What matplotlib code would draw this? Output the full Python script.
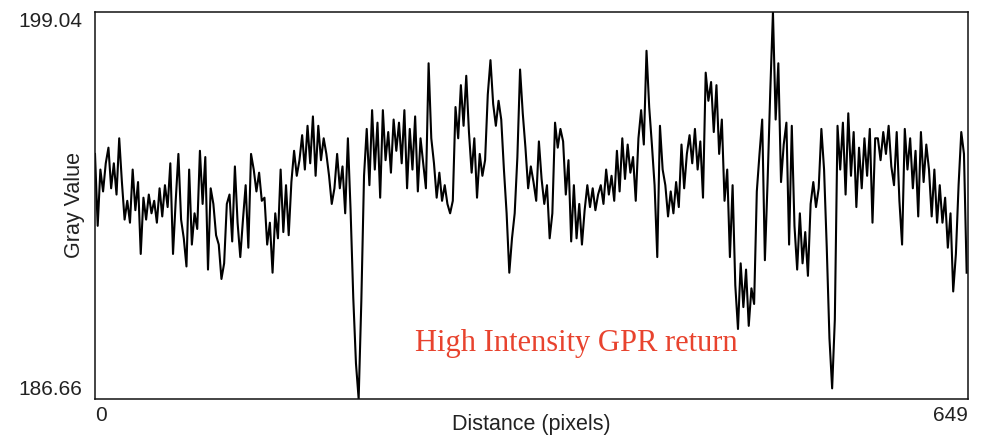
import numpy as np
import matplotlib
matplotlib.use("Agg")
import matplotlib.pyplot as plt

# profile values, one every 2 pixels of distance
gray = [
    # 0 - 98
    194.5, 192.2, 194.0, 193.3, 194.2, 194.7, 193.4, 194.2, 193.2, 195.0,
    193.6, 192.4, 193.0, 192.3, 194.0, 192.7, 193.6, 191.3, 193.1, 192.4,
    193.2, 192.6, 193.0, 192.3, 193.4, 192.5, 193.5, 192.8, 194.2, 191.3,
    193.0, 194.5, 192.4, 191.8, 190.9, 194.0, 191.6, 192.6, 192.1, 194.6,
    192.9, 194.4, 190.8, 193.4, 192.9, 191.9, 191.6, 190.5, 191.0, 192.9,
    # 100 - 198
    193.2, 191.7, 194.1, 192.3, 191.2, 192.4, 193.5, 191.5, 194.5, 194.0,
    193.3, 193.9, 193.0, 193.1, 191.6, 192.3, 190.7, 192.6, 191.8, 194.0,
    192.0, 193.5, 191.9, 193.6, 194.6, 193.8, 194.3, 195.1, 194.0, 195.4,
    194.2, 195.7, 193.8, 195.4, 194.3, 195.0, 194.5, 193.8, 192.9, 193.4,
    194.5, 193.4, 194.1, 192.6, 195.0, 192.7, 189.9, 187.8, 186.66, 189.8,
    # 200 - 298
    193.8, 195.3, 193.5, 195.9, 194.0, 195.5, 193.1, 195.9, 194.3, 195.2,
    193.9, 195.6, 194.6, 195.5, 194.2, 195.9, 193.4, 195.3, 194.0, 195.7,
    193.3, 195.0, 194.2, 193.4, 197.4, 195.0, 194.2, 193.1, 193.9, 193.0,
    193.5, 192.9, 192.6, 193.0, 196.0, 195.0, 196.7, 195.4, 197.0, 195.2,
    193.9, 195.0, 193.1, 194.5, 193.8, 194.3, 196.4, 197.5, 196.1, 195.4,
    # 300 - 398
    196.2, 195.6, 194.0, 192.6, 190.7, 191.8, 192.6, 194.4, 197.2, 195.8,
    194.7, 193.4, 194.1, 193.6, 193.0, 194.9, 193.7, 192.9, 193.5, 191.8,
    192.6, 195.5, 194.7, 195.3, 194.9, 193.2, 194.3, 191.7, 193.5, 191.8,
    192.9, 191.6, 192.7, 193.5, 192.8, 193.4, 192.7, 193.2, 193.5, 192.9,
    194.0, 193.2, 193.8, 193.0, 194.6, 193.3, 195.0, 193.7, 194.8, 193.9,
    # 400 - 498
    194.4, 193.0, 195.0, 195.9, 194.8, 197.8, 196.0, 194.8, 193.5, 191.2,
    195.4, 194.0, 193.5, 192.5, 193.3, 192.6, 193.6, 192.8, 194.8, 193.4,
    194.5, 195.1, 194.2, 195.3, 194.0, 194.9, 193.1, 197.1, 196.2, 196.8,
    195.2, 196.7, 194.5, 195.6, 193.0, 194.0, 191.2, 193.5, 190.3, 188.9,
    191.0, 189.6, 190.8, 189.0, 190.2, 189.7, 193.3, 194.5, 195.6, 191.1,
    # 500 - 598
    193.6, 196.5, 199.04, 195.6, 197.4, 193.6, 194.8, 195.5, 191.6, 195.4,
    192.2, 190.8, 192.6, 191.0, 192.0, 190.6, 192.9, 193.6, 192.8, 193.4,
    195.3, 194.0, 191.5, 188.6, 187.0, 189.2, 195.4, 194.0, 195.5, 193.2,
    195.8, 193.8, 195.2, 192.8, 194.7, 193.4, 195.0, 193.8, 195.3, 192.3,
    195.0, 195.0, 194.3, 195.2, 194.5, 195.4, 194.1, 193.5, 195.2, 193.0,
    # 600 - 648
    191.6, 195.3, 194.0, 195.0, 193.4, 194.6, 192.5, 195.2, 193.6, 194.8,
    194.0, 192.5, 194.0, 192.3, 193.5, 192.3, 193.1, 191.5, 192.6, 190.1,
    191.3, 193.5, 195.2, 194.5, 190.7,
]
distance = np.arange(0, 650, 2)

y_min, y_max = 186.66, 199.04
x_min, x_max = 0, 649
y_labels = ["186.66", "199.04"]
x_labels = ["0", "649"]
note = "High Intensity GPR return"

txt = "#222222"
plt.rcParams['font.family'] = ['Liberation Sans', 'DejaVu Sans']

fig = plt.figure(figsize=(9.81, 4.37), dpi=100)
ax = fig.add_axes([95/981, 1 - 399/437, 873/981, 387/437])

ax.plot(distance, gray, color="black", lw=1.5)
ax.set_xlim(x_min, x_max)
ax.set_ylim(y_min, y_max)

for s in ax.spines.values():
    s.set_linewidth(1.1)
    s.set_color("#111111")

ax.set_yticks([y_min, y_max])
ax.set_yticklabels(y_labels, fontsize=15, color=txt)
ax.set_xticks([x_min, x_max])
ax.set_xticklabels(x_labels, fontsize=15, color=txt)
ax.tick_params(axis="y", length=0, pad=9)
ax.tick_params(axis="x", length=0, pad=5)
yl = ax.get_yticklabels()
yl[0].set_va("bottom")
yl[1].set_va("top")
xl = ax.get_xticklabels()
xl[0].set_ha("left")
xl[1].set_ha("right")

ax.set_xlabel("Distance (pixels)", fontsize=15.5, color=txt, labelpad=-8)
ax.set_ylabel("Gray Value", fontsize=15.5, color=txt, labelpad=-48)

ax.text(0.5516, 0.124, note, transform=ax.transAxes, ha="center", va="baseline",
        fontsize=22, color="#e8432e", family="Liberation Serif")

fig.savefig("out.png", dpi=100)
